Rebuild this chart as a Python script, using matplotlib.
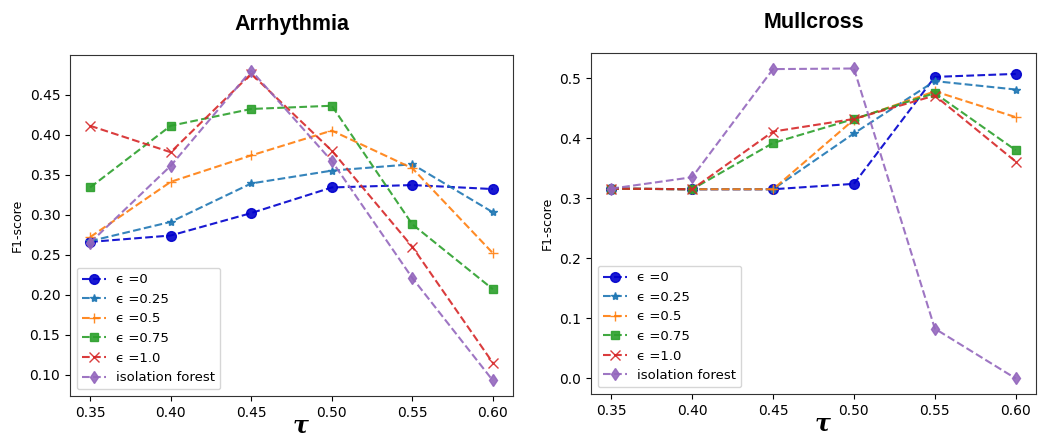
import matplotlib
matplotlib.use("Agg")
import matplotlib.pyplot as plt

# tau values on the x axis
tau = [0.35, 0.40, 0.45, 0.50, 0.55, 0.60]

labels = ['\u03f5 =0', '\u03f5 =0.25', '\u03f5 =0.5',
          '\u03f5 =0.75', '\u03f5 =1.0', 'isolation forest']

# Arrhythmia F1-scores
arr_eps0 = [0.266, 0.274, 0.302, 0.334, 0.337, 0.332]
arr_eps025 = [0.267, 0.291, 0.339, 0.355, 0.363, 0.303]
arr_eps05 = [0.272, 0.341, 0.374, 0.405, 0.358, 0.252]
arr_eps075 = [0.334, 0.411, 0.432, 0.436, 0.288, 0.207]
arr_eps1 = [0.411, 0.378, 0.476, 0.380, 0.260, 0.115]
arr_iso = [0.265, 0.361, 0.480, 0.367, 0.221, 0.093]

# Mullcross F1-scores
mul_eps0 = [0.316, 0.315, 0.315, 0.324, 0.502, 0.507]
mul_eps025 = [0.316, 0.315, 0.315, 0.408, 0.495, 0.481]
mul_eps05 = [0.316, 0.315, 0.315, 0.431, 0.478, 0.435]
mul_eps075 = [0.316, 0.315, 0.392, 0.432, 0.475, 0.380]
mul_eps1 = [0.316, 0.315, 0.411, 0.432, 0.471, 0.361]
mul_iso = [0.316, 0.335, 0.515, 0.516, 0.083, 0.000]

colors = ['mediumblue', 'tab:blue', 'tab:orange', 'tab:green', 'tab:red', 'tab:purple']
markers = ['o', '*', '+', 's', 'x', 'd']
msizes = [7, 6, 7, 6, 7, 6]

fig = plt.figure(figsize=(10.51, 4.38), dpi=100)
ax1 = fig.add_axes([0.0666, 0.0959, 0.4215, 0.7785])
ax2 = fig.add_axes([0.5623, 0.1005, 0.4234, 0.7785])

panels = [
    (ax1, 'Arrhythmia', [arr_eps0, arr_eps025, arr_eps05, arr_eps075, arr_eps1, arr_iso]),
    (ax2, 'Mullcross', [mul_eps0, mul_eps025, mul_eps05, mul_eps075, mul_eps1, mul_iso]),
]

for ax, title, series in panels:
    for vals, lab, c, m, ms in zip(series, labels, colors, markers, msizes):
        ax.plot(tau, vals, linestyle='--', marker=m, color=c, markersize=ms,
                label=lab, alpha=0.9)
    ax.set_xticks(tau)
    ax.set_xticklabels(['%.2f' % t for t in tau])
    ax.set_ylabel('F1-score', fontsize=9)
    ax.set_xlabel('\u03c4', fontsize=17, fontweight='bold', fontstyle='italic',
                  family='DejaVu Serif', va='center')
    ax.xaxis.set_label_coords(0.52, -0.085)
    ax.set_title(title, fontsize=15.5, fontweight='bold', family='Liberation Sans',
                 pad=18)
    ax.legend(loc='lower left', fontsize=9.5, handlelength=1.8)
    for sp in ax.spines.values():
        sp.set_color('#333333')

fig.savefig('out.png', dpi=100)
